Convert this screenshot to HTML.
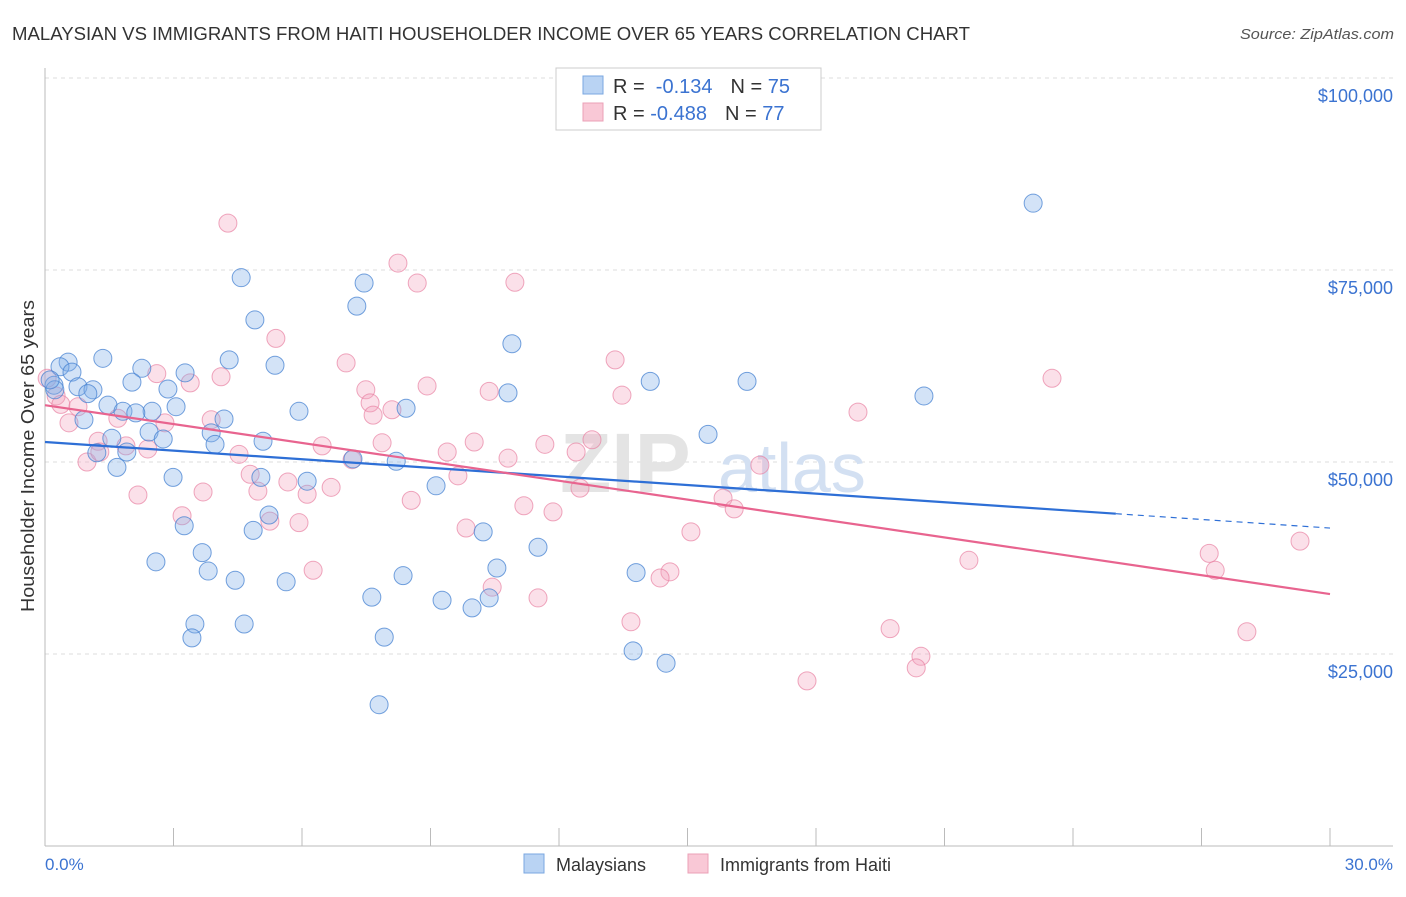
<!DOCTYPE html>
<html><head><meta charset="utf-8"><style>
body{margin:0;background:#fff;font-family:"Liberation Sans",sans-serif;}
svg text{font-family:"Liberation Sans",sans-serif;}
</style></head><body>
<svg width="1406" height="892" viewBox="0 0 1406 892">
<text x="12" y="40" font-size="18" textLength="958" lengthAdjust="spacingAndGlyphs" fill="#333">MALAYSIAN VS IMMIGRANTS FROM HAITI HOUSEHOLDER INCOME OVER 65 YEARS CORRELATION CHART</text>
<text x="1240" y="39" font-size="15" textLength="154" lengthAdjust="spacingAndGlyphs" fill="#555" font-style="italic">Source: ZipAtlas.com</text>
<text x="34" y="456" font-size="18" textLength="312" lengthAdjust="spacingAndGlyphs" fill="#333" text-anchor="middle" transform="rotate(-90 34 456)">Householder Income Over 65 years</text>
<g id="grid"></g>
<g id="ylabels"></g>
<text x="560" y="492" font-size="84" fill="#e4e4e4" font-weight="bold">ZIP</text>
<text x="718" y="492" font-size="70" fill="#d3e0f2">atlas</text>
<line x1="45" y1="68" x2="45" y2="846" stroke="#bbb"/>
<line x1="45" y1="846" x2="1393" y2="846" stroke="#bbb"/>
<g id="xticks"></g>
<g id="pink"></g>
<g id="blue"></g>
<g id="trends"></g>
<text x="45" y="870" font-size="17" fill="#3b73d1">0.0%</text>
<text x="1393" y="870" font-size="17" fill="#3b73d1" text-anchor="end">30.0%</text>
<g>
<rect x="556" y="68" width="265" height="62" fill="#fff" stroke="#ccc"/>
<rect x="583" y="76" width="20" height="18" fill="#b9d3f3" stroke="#7aa7e0"/>
<rect x="583" y="103" width="20" height="18" fill="#f9c8d6" stroke="#eba0b7"/>
<text x="613" y="93" font-size="20" fill="#333">R = <tspan fill="#3b73d1">&#160;-0.134</tspan><tspan dx="18">N = </tspan><tspan fill="#3b73d1">75</tspan></text>
<text x="613" y="120" font-size="20" fill="#333">R = <tspan fill="#3b73d1">-0.488</tspan><tspan dx="18">N = </tspan><tspan fill="#3b73d1">77</tspan></text>
</g>
<g>
<rect x="524" y="854" width="20" height="19" fill="#b9d3f3" stroke="#7aa7e0"/>
<text x="556" y="871" font-size="18" fill="#333">Malaysians</text>
<rect x="688" y="854" width="20" height="19" fill="#f9c8d6" stroke="#eba0b7"/>
<text x="720" y="871" font-size="18" fill="#333">Immigrants from Haiti</text>
</g>
</svg>
<script>
const yTicks=[25000,50000,75000,100000];
const yTickLabels=["$25,000","$50,000","$75,000","$100,000"];
const xTicks=[0,3,6,9,12,15,18,21,24,27,30];
const blueX=[23.07,4.58,7.45,7.28,4.90,10.90,1.35,0.54,4.30,5.37,0.35,2.26,3.27,0.63,2.03,0.21,14.13,16.39,0.77,1.12,2.87,1.00,10.81,20.52,3.06,1.47,5.93,8.43,1.82,2.50,2.12,0.91,4.18,2.43,3.88,1.56,2.76,5.09,15.48,3.97,1.21,1.91,7.19,8.20,1.68,2.99,5.04,6.12,9.13,5.23,3.25,4.86,10.23,11.51,3.67,2.59,10.55,3.81,13.80,4.44,5.63,8.36,7.63,10.37,9.27,9.97,3.50,4.65,3.43,7.92,13.73,14.50,7.80,0.23,0.12];
const blueY=[83.7,74.0,73.3,70.3,68.5,65.4,63.5,63.0,63.3,62.6,62.4,62.2,61.6,61.7,60.4,60.0,60.5,60.5,59.8,59.4,59.5,58.9,59.0,58.6,57.2,57.4,56.6,57.0,56.6,56.6,56.4,55.5,55.6,53.9,53.8,53.1,53.0,52.7,53.6,52.3,51.2,51.3,50.4,50.1,49.3,48.0,48.0,47.5,46.9,43.1,41.7,41.1,40.9,38.9,38.2,37.0,36.2,35.8,35.6,34.6,34.4,35.2,32.4,32.3,32.0,31.0,28.9,28.9,27.1,27.2,25.4,23.8,18.4,59.4,60.7];
const pinkX=[4.27,8.24,8.69,10.97,5.39,13.31,7.03,23.51,4.11,2.61,3.39,7.49,8.92,10.37,13.47,0.26,0.37,0.77,7.59,8.10,18.98,1.70,3.88,2.80,0.56,7.66,1.24,1.89,12.77,11.67,10.02,7.87,6.47,4.53,9.39,12.40,2.40,10.81,16.69,0.98,4.79,9.64,7.17,12.49,5.67,6.68,2.17,3.69,4.97,6.12,8.55,15.83,11.18,11.86,16.09,3.20,5.25,5.93,9.83,15.08,29.30,27.18,21.57,6.26,27.32,14.59,14.36,10.44,11.51,13.68,19.73,28.06,20.45,20.34,17.79,1.28,0.05];
const pinkY=[81.1,75.9,73.3,73.4,66.1,63.3,62.9,60.9,61.1,61.5,60.3,59.4,59.9,59.2,58.7,58.6,57.5,57.2,57.7,56.8,56.5,55.7,55.5,55.1,55.1,56.1,52.7,52.1,52.9,52.3,52.6,52.5,52.1,51.0,51.3,51.3,51.7,50.5,49.6,50.0,48.4,48.2,50.3,46.6,47.4,46.7,45.7,46.1,46.2,45.8,45.0,45.3,44.3,43.5,43.9,43.0,42.3,42.1,41.4,40.9,39.7,38.1,37.2,35.9,35.9,35.7,34.9,33.7,32.3,29.2,28.3,27.9,24.7,23.2,21.5,51.3,60.9];
const blueTrend=[52.6,41.4];
const pinkTrend=[57.4,32.8];
const blueSolidEnd=25;

const NS="http://www.w3.org/2000/svg";
const xs=v=>45+v*(1330-45)/30;
const ys=k=>846-k*192/25;
function mk(tag,attrs,parent){const e=document.createElementNS(NS,tag);for(const a in attrs)e.setAttribute(a,attrs[a]);document.getElementById(parent).appendChild(e);return e;}
yTicks.forEach((t,i)=>{
 const y=ys(t/1000);
 const l=mk('line',{x1:45,x2:1393,y1:y,y2:y,stroke:'#ddd','stroke-dasharray':'4,4'},'grid');
 
 
 const tx=mk('text',{x:1393,y:y+24,'font-size':18,fill:'#3b73d1','text-anchor':'end'},'ylabels');
 tx.textContent=yTickLabels[i];
 
 
});
xTicks.forEach(t=>{
 if(t===0)return;
 const l=mk('line',{x1:xs(t),x2:xs(t),y1:828,y2:846,stroke:'#bbb'},'xticks');
 
 
});
pinkX.forEach((x,i)=>{
 const c=mk('circle',{cx:xs(x),cy:ys(pinkY[i]),r:9,fill:'rgba(244,160,188,0.33)',stroke:'rgba(232,130,163,0.7)','stroke-width':1},'pink');
 
 
});
blueX.forEach((x,i)=>{
 const c=mk('circle',{cx:xs(x),cy:ys(blueY[i]),r:9,fill:'rgba(130,175,232,0.35)',stroke:'rgba(70,130,210,0.75)','stroke-width':1},'blue');
 
 
});
const bAt=x=>blueTrend[0]+(blueTrend[1]-blueTrend[0])*x/30;
const bl=mk('line',{x1:xs(0),y1:ys(bAt(0)),x2:xs(blueSolidEnd),y2:ys(bAt(blueSolidEnd)),stroke:'#2e6fd6','stroke-width':2.2},'trends');


const bd=mk('line',{x1:xs(blueSolidEnd),y1:ys(bAt(blueSolidEnd)),x2:xs(30),y2:ys(bAt(30)),stroke:'#2e6fd6','stroke-width':1.2,'stroke-dasharray':'6,5'},'trends');


const pl=mk('line',{x1:xs(0),y1:ys(pinkTrend[0]),x2:xs(30),y2:ys(pinkTrend[1]),stroke:'#e8648f','stroke-width':2.2},'trends');


</script>
</body></html>
